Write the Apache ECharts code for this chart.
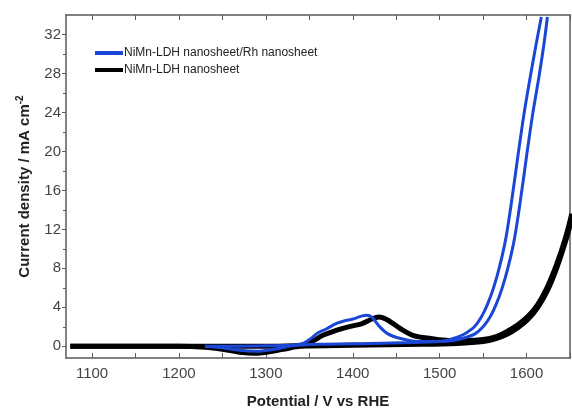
<!DOCTYPE html>
<html>
<head>
<meta charset="utf-8">
<script src="https://cdn.jsdelivr.net/npm/echarts@6/dist/echarts.min.js"></script>
<style>
  html, body { margin: 0; padding: 0; background: #fff; }
  #chart { width: 572px; height: 414px; }
</style>
</head>
<body>
<div id="chart"></div>
<script>
  // NiMn-LDH nanosheet/Rh nanosheet, anodic and cathodic sweep
  var blueFwdX = [1230, 1300, 1340, 1352, 1360, 1370, 1380, 1390, 1400, 1410, 1416, 1422, 1430, 1440, 1455, 1475, 1500, 1512, 1522, 1531, 1540, 1548, 1555, 1562, 1569, 1576, 1583, 1590, 1597, 1604, 1611, 1617]
  var blueFwdY = [0, 0.05, 0.2, 0.8, 1.4, 1.8, 2.3, 2.6, 2.8, 3.1, 3.2, 3.0, 2.1, 1.3, 0.8, 0.5, 0.5, 0.7, 1.0, 1.4, 2.0, 3.0, 4.3, 6.0, 8.2, 11.0, 15.0, 19.5, 23.8, 27.5, 31.0, 33.8]
  var blueRevX = [1624, 1620, 1614, 1607, 1600, 1593, 1586, 1579, 1572, 1565, 1558, 1550, 1541, 1530, 1516, 1500, 1470, 1420, 1360, 1330, 1310, 1290, 1270, 1250, 1230]
  var blueRevY = [33.8, 31.0, 27.5, 23.8, 19.5, 15.0, 11.0, 8.2, 6.0, 4.3, 3.0, 2.0, 1.3, 0.9, 0.6, 0.5, 0.4, 0.3, 0.2, 0.05, -0.3, -0.5, -0.4, -0.15, 0]

  // NiMn-LDH nanosheet
  var blackFwdX = [1075, 1200, 1300, 1340, 1355, 1365, 1380, 1395, 1410, 1422, 1430, 1440, 1455, 1470, 1490, 1510, 1530, 1550, 1565, 1577, 1590, 1602, 1613, 1624, 1635, 1645, 1652]
  var blackFwdY = [0, 0, 0, 0.1, 0.6, 1.1, 1.6, 2.0, 2.3, 2.8, 3.0, 2.7, 1.8, 1.1, 0.8, 0.6, 0.6, 0.7, 1.0, 1.5, 2.2, 3.1, 4.3, 6.1, 8.5, 11.2, 13.6]
  var blackRevX = [1652, 1645, 1635, 1624, 1613, 1602, 1590, 1577, 1565, 1550, 1520, 1480, 1400, 1340, 1320, 1300, 1288, 1270, 1250, 1230, 1200, 1075]
  var blackRevY = [13.0, 10.8, 8.1, 5.7, 4.0, 2.8, 1.9, 1.2, 0.8, 0.5, 0.3, 0.2, 0.1, 0, -0.3, -0.6, -0.7, -0.6, -0.3, -0.1, 0, 0]

  var xTicks = [1100, 1200, 1300, 1400, 1500, 1600]
  var xMinor = [1100, 1150, 1200, 1250, 1300, 1350, 1400, 1450, 1500, 1550, 1600, 1650]
  var yTicks = [0, 4, 8, 12, 16, 20, 24, 28, 32]
  var yMinor = [2, 6, 10, 14, 18, 22, 26, 30]

  var blueName = 'NiMn-LDH nanosheet/Rh nanosheet'
  var blackName = 'NiMn-LDH nanosheet'
  var blue = '#1b47d6'

  function pairs(xs, ys) {
    return xs.map(function (x, i) { return [x, ys[i]] })
  }
  function plain(v) { return String(v) }

  var font = 'Liberation Sans, Arial'
  var axisColor = '#5a5a5a'
  var xMin = 1070, xMax = 1650, yMin = -1.2, yMax = 34

  var chart = echarts.init(document.getElementById('chart'))
  chart.setOption({
    animation: false,
    grid: { left: 66, right: 2, top: 15, bottom: 55 },
    legend: {
      data: [blueName, blackName],
      orient: 'vertical',
      left: 90,
      top: 42,
      itemWidth: 28,
      itemHeight: 4,
      itemGap: 5,
      icon: 'rect',
      textStyle: { fontSize: 12, color: '#222', fontFamily: font, padding: [0, 0, 0, -4] }
    },
    xAxis: [{
      type: 'value',
      min: xMin,
      max: xMax,
      name: 'Potential / V vs RHE',
      nameLocation: 'middle',
      nameGap: 36,
      nameTextStyle: { fontSize: 15, fontWeight: 'bold', color: '#222', fontFamily: font },
      axisLine: { onZero: false, lineStyle: { color: axisColor, width: 1.5 } },
      axisTick: { inside: true, length: 5, customValues: xMinor, lineStyle: { color: axisColor } },
      axisLabel: { margin: 8, customValues: xTicks, formatter: plain, fontSize: 15, color: '#444', fontFamily: font },
      splitLine: { show: false }
    }, {
      type: 'value',
      position: 'top',
      min: xMin,
      max: xMax,
      axisLine: { onZero: false, lineStyle: { color: axisColor, width: 1.5 } },
      axisTick: { inside: true, length: 5, customValues: xMinor, lineStyle: { color: axisColor } },
      axisLabel: { show: false },
      splitLine: { show: false }
    }],
    yAxis: [{
      type: 'value',
      min: yMin,
      max: yMax,
      name: '{a|Current density / mA cm}{s|-2}',
      nameLocation: 'middle',
      nameRotate: 90,
      nameGap: 31,
      nameTextStyle: {
        rich: {
          a: { fontSize: 15, fontWeight: 'bold', color: '#222', fontFamily: font },
          s: { fontSize: 10, fontWeight: 'bold', color: '#222', fontFamily: font, padding: [0, 0, 10, 0] }
        }
      },
      axisLine: { onZero: false, lineStyle: { color: axisColor, width: 1.5 } },
      axisTick: { length: 4, customValues: yTicks, lineStyle: { color: axisColor } },
      axisLabel: { margin: 5, customValues: yTicks, formatter: plain, fontSize: 15, color: '#444', fontFamily: font },
      splitLine: { show: false }
    }, {
      type: 'value',
      position: 'left',
      min: yMin,
      max: yMax,
      axisLine: { show: false },
      axisTick: { length: 3, customValues: yMinor, lineStyle: { color: axisColor } },
      axisLabel: { show: false },
      splitLine: { show: false }
    }, {
      type: 'value',
      position: 'right',
      min: yMin,
      max: yMax,
      axisLine: { lineStyle: { color: axisColor, width: 1.5 } },
      axisTick: { show: false },
      axisLabel: { show: false },
      splitLine: { show: false }
    }],
    series: [
      {
        name: blackName, type: 'line', data: pairs(blackFwdX, blackFwdY),
        symbol: 'none', smooth: 0.3, color: '#000', lineStyle: { width: 5, color: '#000' }
      },
      {
        name: blackName, type: 'line', data: pairs(blackRevX, blackRevY),
        symbol: 'none', smooth: 0.3, color: '#000', lineStyle: { width: 5, color: '#000' }
      },
      {
        name: blueName, type: 'line', data: pairs(blueFwdX, blueFwdY),
        symbol: 'none', smooth: 0.3, color: blue, lineStyle: { width: 3, color: blue }
      },
      {
        name: blueName, type: 'line', data: pairs(blueRevX, blueRevY),
        symbol: 'none', smooth: 0.3, color: blue, lineStyle: { width: 3, color: blue }
      }
    ]
  })
</script>
</body>
</html>
